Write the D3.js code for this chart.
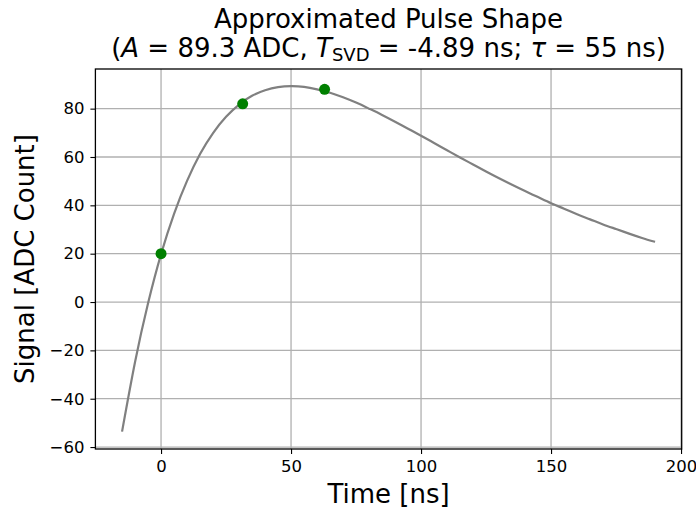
<!DOCTYPE html>
<html>
<head>
<meta charset="utf-8">
<script src="https://cdn.jsdelivr.net/npm/d3@7"></script>
<style>
  body { margin: 0; background: #fff; }
  svg text { font-family: "DejaVu Sans", sans-serif; }
  .grid line { stroke: #b0b0b0; stroke-width: 1.3; }
  .axis path { display: none; }
  .axis line { stroke: #000; stroke-width: 1.1; }
</style>
</head>
<body>
<div id="chart"></div>
<script>
// pulse curve, every 5 ns
var times = [-15, -10, -5, 0, 5, 10, 15, 20, 25, 30, 35, 40, 45, 50, 55, 60, 65, 70,
    75, 80, 85, 90, 95, 100, 105, 110, 115, 120, 125, 130, 135, 140, 145, 150,
    155, 160, 165, 170, 175, 180, 185, 190];
var signal = [-53.6, -24.8, -0.5, 19.8, 36.5, 50.1, 61.2, 69.9, 76.6, 81.7, 85.3, 87.6,
    88.9, 89.3, 89.0, 88.0, 86.6, 84.7, 82.5, 80.0, 77.4, 74.6, 71.7, 68.8, 65.8,
    62.8, 59.8, 56.9, 54.0, 51.2, 48.5, 45.9, 43.4, 40.9, 38.6, 36.3, 34.2, 32.1,
    30.2, 28.3, 26.5, 24.9];

// measured samples (green dots)
var sampleTimes = [0, 31.4, 62.9];
var sampleValues = [20, 82, 88];

var xTicks = [0, 50, 100, 150, 200];
var yTicks = [-60, -40, -20, 0, 20, 40, 60, 80];

var svgWidth = 696, svgHeight = 514;
var margin = { top: 69, right: 14.3, bottom: 65, left: 95.4 };
var width = svgWidth - margin.left - margin.right;
var height = svgHeight - margin.top - margin.bottom;

var svg = d3.select("#chart").append("svg")
    .attr("width", svgWidth)
    .attr("height", svgHeight);

var chartGroup = svg.append("g")
    .attr("transform", `translate(${margin.left}, ${margin.top})`);

var xScale = d3.scaleLinear().domain([-25.25, 200.25]).range([0, width]);
var yScale = d3.scaleLinear().domain([-60.8, 96.4]).range([height, 0]);

// grid
var grid = chartGroup.append("g").attr("class", "grid");
grid.selectAll(".gx").data(xTicks).enter().append("line")
    .attr("x1", d => xScale(d)).attr("x2", d => xScale(d))
    .attr("y1", 0).attr("y2", height);
grid.selectAll(".gy").data(yTicks).enter().append("line")
    .attr("y1", d => yScale(d)).attr("y2", d => yScale(d))
    .attr("x1", 0).attr("x2", width);

// curve
var pts = times.map((t, i) => [t, signal[i]]);
var line = d3.line()
    .x(d => xScale(d[0]))
    .y(d => yScale(d[1]))
    .curve(d3.curveNatural);

chartGroup.append("path")
    .datum(pts)
    .attr("d", line)
    .attr("fill", "none")
    .attr("stroke", "#808080")
    .attr("stroke-width", 2.2);

// samples
chartGroup.append("g")
    .selectAll("circle")
    .data(sampleTimes)
    .enter()
    .append("circle")
    .attr("cx", d => xScale(d))
    .attr("cy", (d, i) => yScale(sampleValues[i]))
    .attr("r", 5.5)
    .attr("fill", "#008000");

// axes
var xAxisG = chartGroup.append("g")
    .attr("class", "axis")
    .attr("transform", `translate(0, ${height})`)
    .call(d3.axisBottom(xScale).tickValues(xTicks).tickSize(5).tickPadding(6)
        .tickFormat(d3.format("d")));

var yAxisG = chartGroup.append("g")
    .attr("class", "axis")
    .call(d3.axisLeft(yScale).tickValues(yTicks).tickSize(5).tickPadding(6)
        .tickFormat(d => d < 0 ? "\u2212" + Math.abs(d) : d));

[xAxisG, yAxisG].forEach(function (g) {
    g.attr("font-family", "DejaVu Sans").attr("font-size", null);
    g.selectAll("text")
        .style("font-family", "'DejaVu Sans', sans-serif")
        .style("font-size", "16.5px")
        .style("fill", "#000");
});

// frame
chartGroup.append("rect")
    .attr("width", width)
    .attr("height", height)
    .attr("fill", "none")
    .attr("stroke", "#000")
    .attr("stroke-width", 1.3);

// labels
svg.append("text")
    .attr("x", margin.left + width / 2)
    .attr("y", 503)
    .attr("text-anchor", "middle")
    .attr("font-size", 26)
    .text("Time [ns]");

svg.append("text")
    .attr("transform", `translate(34, ${margin.top + height / 2}) rotate(-90)`)
    .attr("text-anchor", "middle")
    .attr("font-size", 26)
    .text("Signal [ADC Count]");

// title
var cx = margin.left + width / 2;
svg.append("text")
    .attr("x", cx).attr("y", 28)
    .attr("text-anchor", "middle")
    .attr("font-size", 26)
    .text("Approximated Pulse Shape");

var sub = svg.append("text")
    .attr("x", cx).attr("y", 57)
    .attr("text-anchor", "middle")
    .attr("font-size", 26);
sub.append("tspan").text("(");
sub.append("tspan").attr("font-style", "italic").text("A");
sub.append("tspan").text(" = 89.3 ADC, ");
sub.append("tspan").attr("font-style", "italic").text("T");
sub.append("tspan").attr("font-size", 18).attr("dy", 4).text("SVD");
sub.append("tspan").attr("dy", -4).text(" = -4.89 ns; ");
sub.append("tspan").attr("font-style", "italic").text("\u03c4");
sub.append("tspan").text(" = 55 ns)");
</script>
</body>
</html>
